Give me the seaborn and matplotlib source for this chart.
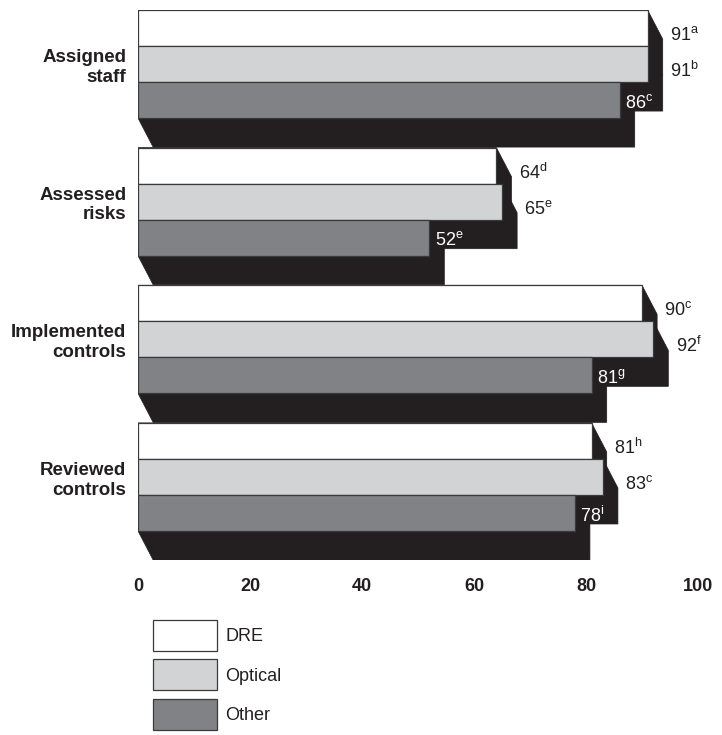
import matplotlib.pyplot as plt
from matplotlib.patches import Polygon, Patch
import matplotlib as mpl
import seaborn as sns
import pandas as pd

# values
categories = ["Assigned\nstaff", "Assessed\nrisks", "Implemented\ncontrols", "Reviewed\ncontrols"]
methods = ["DRE", "Optical", "Other"]
dre = [91, 64, 90, 81]
optical = [91, 65, 92, 83]
other = [86, 52, 81, 78]
dre_sup = ["a", "d", "c", "h"]
optical_sup = ["b", "e", "f", "c"]
other_sup = ["c", "e", "g", "i"]
xticks = [0, 20, 40, 60, 80, 100]

sns.set_style("white")
mpl.rcParams.update({'font.family': ['Liberation Sans', 'DejaVu Sans'],
                     'mathtext.fontset': 'custom',
                     'mathtext.rm': 'Liberation Sans'})

ink = "#231f20"
palette = {"DRE": "#ffffff", "Optical": "#d1d3d4", "Other": "#808285"}

df = pd.DataFrame({
    "category": categories * 3,
    "method": [m for m in methods for _ in categories],
    "value": dre + optical + other,
})
sups = [dre_sup, optical_sup, other_sup]
vals = [dre, optical, other]

fig = plt.figure(figsize=(7.22, 7.35), dpi=100)
ax = fig.add_axes([138 / 722, 1 - 560 / 735, 560 / 722, 550 / 735])

sns.barplot(data=df, x="value", y="category", hue="method", orient="h",
            palette=palette, width=0.785, edgecolor="#3a3a3a", linewidth=0.9,
            saturation=1, legend=False, ax=ax, zorder=3)

# black extruded "3D" shadow behind every bar
dx, dy = 2.7, 0.211
for cont in ax.containers:
    for bar in cont:
        x0 = bar.get_x()
        x1 = x0 + bar.get_width()
        y0 = bar.get_y()
        y1 = y0 + bar.get_height()
        poly = Polygon([(x0, y0), (x1, y0), (x1 + dx, y0 + dy), (x1 + dx, y1 + dy),
                        (x0 + dx, y1 + dy), (x0, y1)], closed=True,
                       facecolor=ink, edgecolor=ink, linewidth=0.5, zorder=1)
        ax.add_patch(poly)

# value labels with superscript letters
for k, cont in enumerate(ax.containers):
    for i, bar in enumerate(cont):
        yc = bar.get_y() + bar.get_height() / 2
        txt = "$\\mathregular{%d^{%s}}$" % (vals[k][i], sups[k][i])
        if k < 2:
            ax.text(bar.get_width() + dx + 1.3, yc + 0.05, txt, ha="left", va="center",
                    fontsize=13, color=ink, zorder=5)
        else:
            ax.text(bar.get_width() + 1.0, yc + 0.02, txt, ha="left", va="center",
                    fontsize=13, color="white", zorder=5)

ax.set_xlim(0, 100)
ax.set_ylim(3 + 0.3925 + dy, -0.3925)
ax.set_xticks(xticks)
ax.set_xticklabels([str(t) for t in xticks], fontsize=13, fontweight="bold", color=ink)
ax.set_yticks(range(len(categories)))
ax.set_yticklabels(categories, fontsize=13.5, fontweight="bold", color=ink)
ax.tick_params(axis="x", length=0, pad=13)
ax.tick_params(axis="y", length=0, pad=8.5)
ax.set_xlabel("")
ax.set_ylabel("")
sns.despine(ax=ax, left=True, bottom=True)

handles = [Patch(facecolor=palette[m], edgecolor="#3a3a3a", linewidth=0.9) for m in methods]
fig.legend(handles, methods, loc="upper left", bbox_to_anchor=(153 / 722, 1 - 620 / 735),
           frameon=False, fontsize=13, handlelength=3.55, handleheight=2.28,
           labelspacing=0.45, handletextpad=0.45, borderpad=0, borderaxespad=0,
           labelcolor=ink)

plt.savefig("out.png", dpi=100)
